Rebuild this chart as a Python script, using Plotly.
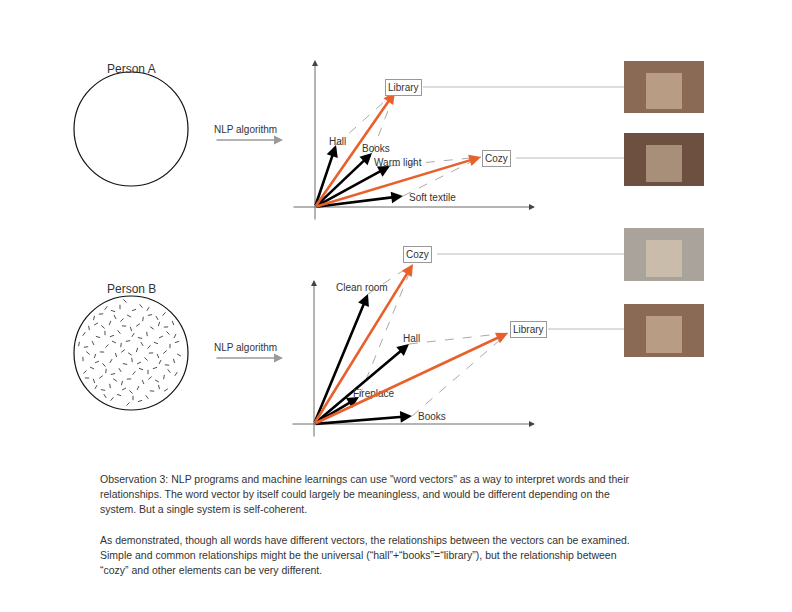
import math
import plotly.graph_objects as go

# diagram coordinates (pixel space of the 792x612 sheet)
persons = ["Person A", "Person B"]
person_y = [69, 289]
circle_center = [(131, 129), (131, 353)]
circle_r = 57
nlp_y = [140, 358]

origins = [(315, 207), (314, 424)]
axis_top = [60, 280]
axis_right = 535

# top system
top_words = ["Hall", "Books", "Warm light", "Soft textile"]
top_tips = [(336, 145), (372, 153), (390, 166), (403, 196)]
top_label_pos = [(337, 141), (376, 148), (398, 162), (432, 197)]
top_results = ["Library", "Cozy"]
top_res_tips = [(395, 92), (481, 157)]
top_res_box = [(403, 87), (496, 158)]
top_links = [("Hall", "Library"), ("Books", "Library"),
             ("Warm light", "Cozy"), ("Soft textile", "Cozy")]

# bottom system
bot_words = ["Clean room", "Hall", "Fireplace", "Books"]
bot_tips = [(368, 294), (409, 344), (359, 397), (412, 416)]
bot_label_pos = [(362, 287), (411, 338), (374, 393), (432, 416)]
bot_results = ["Cozy", "Library"]
bot_res_tips = [(413, 264), (508, 333)]
bot_res_box = [(417, 254), (528, 329)]
bot_links = [("Clean room", "Cozy"), ("Fireplace", "Cozy"),
             ("Hall", "Library"), ("Books", "Library")]

images = [(624, 61, 704, 113), (624, 133, 704, 186), (624, 228, 704, 281), (624, 304, 704, 357)]
image_colors = ["#8a6a55", "#6e5040", "#a9a39b", "#8a6a55"]

para1 = ["Observation 3: NLP programs and machine learnings can use \"word vectors\" as a way to interpret words and their",
         "relationships. The word vector by itself could largely be meaningless, and would be different depending on the",
         "system. But a single system is self-coherent."]
para2 = ["As demonstrated, though all words have different vectors, the relationships between the vectors can be examined.",
         "Simple and common relationships might be the universal (\u201chall\u201d+\u201cbooks\u201d=\u201clibrary\u201d), but the relationship between",
         "\u201ccozy\u201d and other elements can be very different."]
para_y = [479, 494, 509, 540, 555, 570]

ORANGE = "#e8602c"
GREY = "#9a9a9a"
FONT = "Liberation Sans"

fig = go.Figure()
shapes = []
ann = []


def arrow(tip, tail, color, width, head=2, size=1.0):
    ann.append(dict(x=tip[0], y=tip[1], ax=tail[0], ay=tail[1], xref="x", yref="y",
                    axref="x", ayref="y", text="", showarrow=True, arrowhead=head,
                    arrowsize=size, arrowwidth=width, arrowcolor=color, standoff=0))


def label(x, y, t, size=10, color="#333", box=False, anchor="center"):
    d = dict(x=x, y=y, xref="x", yref="y", text=t, showarrow=False, xanchor=anchor,
             font=dict(family=FONT, size=size, color=color))
    if box:
        d.update(bordercolor="#999", borderwidth=1, bgcolor="white", borderpad=2)
    ann.append(d)


# persons, circles, NLP arrows
for i, name in enumerate(persons):
    cx, cy = circle_center[i]
    label(cx, person_y[i], name, size=12)
    shapes.append(dict(type="circle", xref="x", yref="y", x0=cx - circle_r, x1=cx + circle_r,
                       y0=cy - circle_r, y1=cy + circle_r, line=dict(color="#111", width=1.2)))
    label(245, nlp_y[i] - 11, "NLP algorithm", size=10)
    arrow((283, nlp_y[i]), (215, nlp_y[i]), GREY, 1.5, head=2, size=1.2)

# texture in person B circle
cx, cy = circle_center[1]
k = 0
for gx in range(-54, 56, 9):
    for gy in range(-54, 56, 9):
        k += 1
        px = cx + gx + (k * 37 % 7) - 3
        py = cy + gy + (k * 53 % 7) - 3
        if (px - cx) ** 2 + (py - cy) ** 2 > (circle_r - 4) ** 2:
            continue
        a = (k * 47 % 180) * math.pi / 180
        dx, dy = 2.2 * math.cos(a), 2.2 * math.sin(a)
        shapes.append(dict(type="line", xref="x", yref="y", x0=px - dx, x1=px + dx,
                           y0=py - dy, y1=py + dy, line=dict(color="#222", width=0.8)))

# vector systems
systems = [
    (origins[0], axis_top[0], top_words, top_tips, top_label_pos, top_results, top_res_tips, top_res_box, top_links),
    (origins[1], axis_top[1], bot_words, bot_tips, bot_label_pos, bot_results, bot_res_tips, bot_res_box, bot_links),
]
for o, top, words, tips, lpos, res, rtips, rbox, links in systems:
    arrow((o[0], top), (o[0], o[1] + 14), "#444", 0.8, head=2, size=1.5)
    arrow((axis_right, o[1]), (o[0] - 23, o[1]), "#444", 0.8, head=2, size=1.5)
    tipmap = dict(zip(words, tips))
    rmap = dict(zip(res, rtips))
    for a, b in links:
        shapes.append(dict(type="line", xref="x", yref="y", x0=tipmap[a][0], y0=tipmap[a][1],
                           x1=rmap[b][0], y1=rmap[b][1], line=dict(color="#aaa", width=1, dash="dash")))
    for w, t, lp in zip(words, tips, lpos):
        arrow(t, o, "black", 2.6, head=2, size=0.9)
        label(lp[0], lp[1], w, size=10)
    for r, t, bx in zip(res, rtips, rbox):
        arrow(t, o, ORANGE, 2.6, head=2, size=0.9)
        shapes.append(dict(type="line", xref="x", yref="y", x0=bx[0] + 20, x1=624,
                           y0=bx[1], y1=bx[1], line=dict(color="#aaa", width=0.8)))
        label(bx[0], bx[1], r, size=10, box=True)

# photo placeholders
for (x0, y0, x1, y1), c in zip(images, image_colors):
    shapes.append(dict(type="rect", xref="x", yref="y", x0=x0, x1=x1, y0=y0, y1=y1,
                       fillcolor=c, line=dict(width=0)))
    shapes.append(dict(type="rect", xref="x", yref="y", x0=x0 + 22, x1=x1 - 22, y0=y0 + 12, y1=y1 - 4,
                       fillcolor="rgba(240,220,190,0.45)", line=dict(width=0)))

for t, y in zip(para1 + para2, para_y):
    label(98, y, t, size=10.5, color="#333", anchor="left")

# the page body adds an 8px margin, so the ranges are shifted to compensate
fig.add_trace(go.Scatter(x=[8, 800], y=[8, 620], mode="markers", marker=dict(opacity=0),
                         hoverinfo="skip", showlegend=False))
fig.update_layout(width=792, height=612, margin=dict(l=0, r=0, t=0, b=0),
                  plot_bgcolor="white", paper_bgcolor="white", shapes=shapes, annotations=ann,
                  xaxis=dict(range=[8, 800], visible=False, fixedrange=True),
                  yaxis=dict(range=[620, 8], visible=False, fixedrange=True))
fig.write_html("out.html")
